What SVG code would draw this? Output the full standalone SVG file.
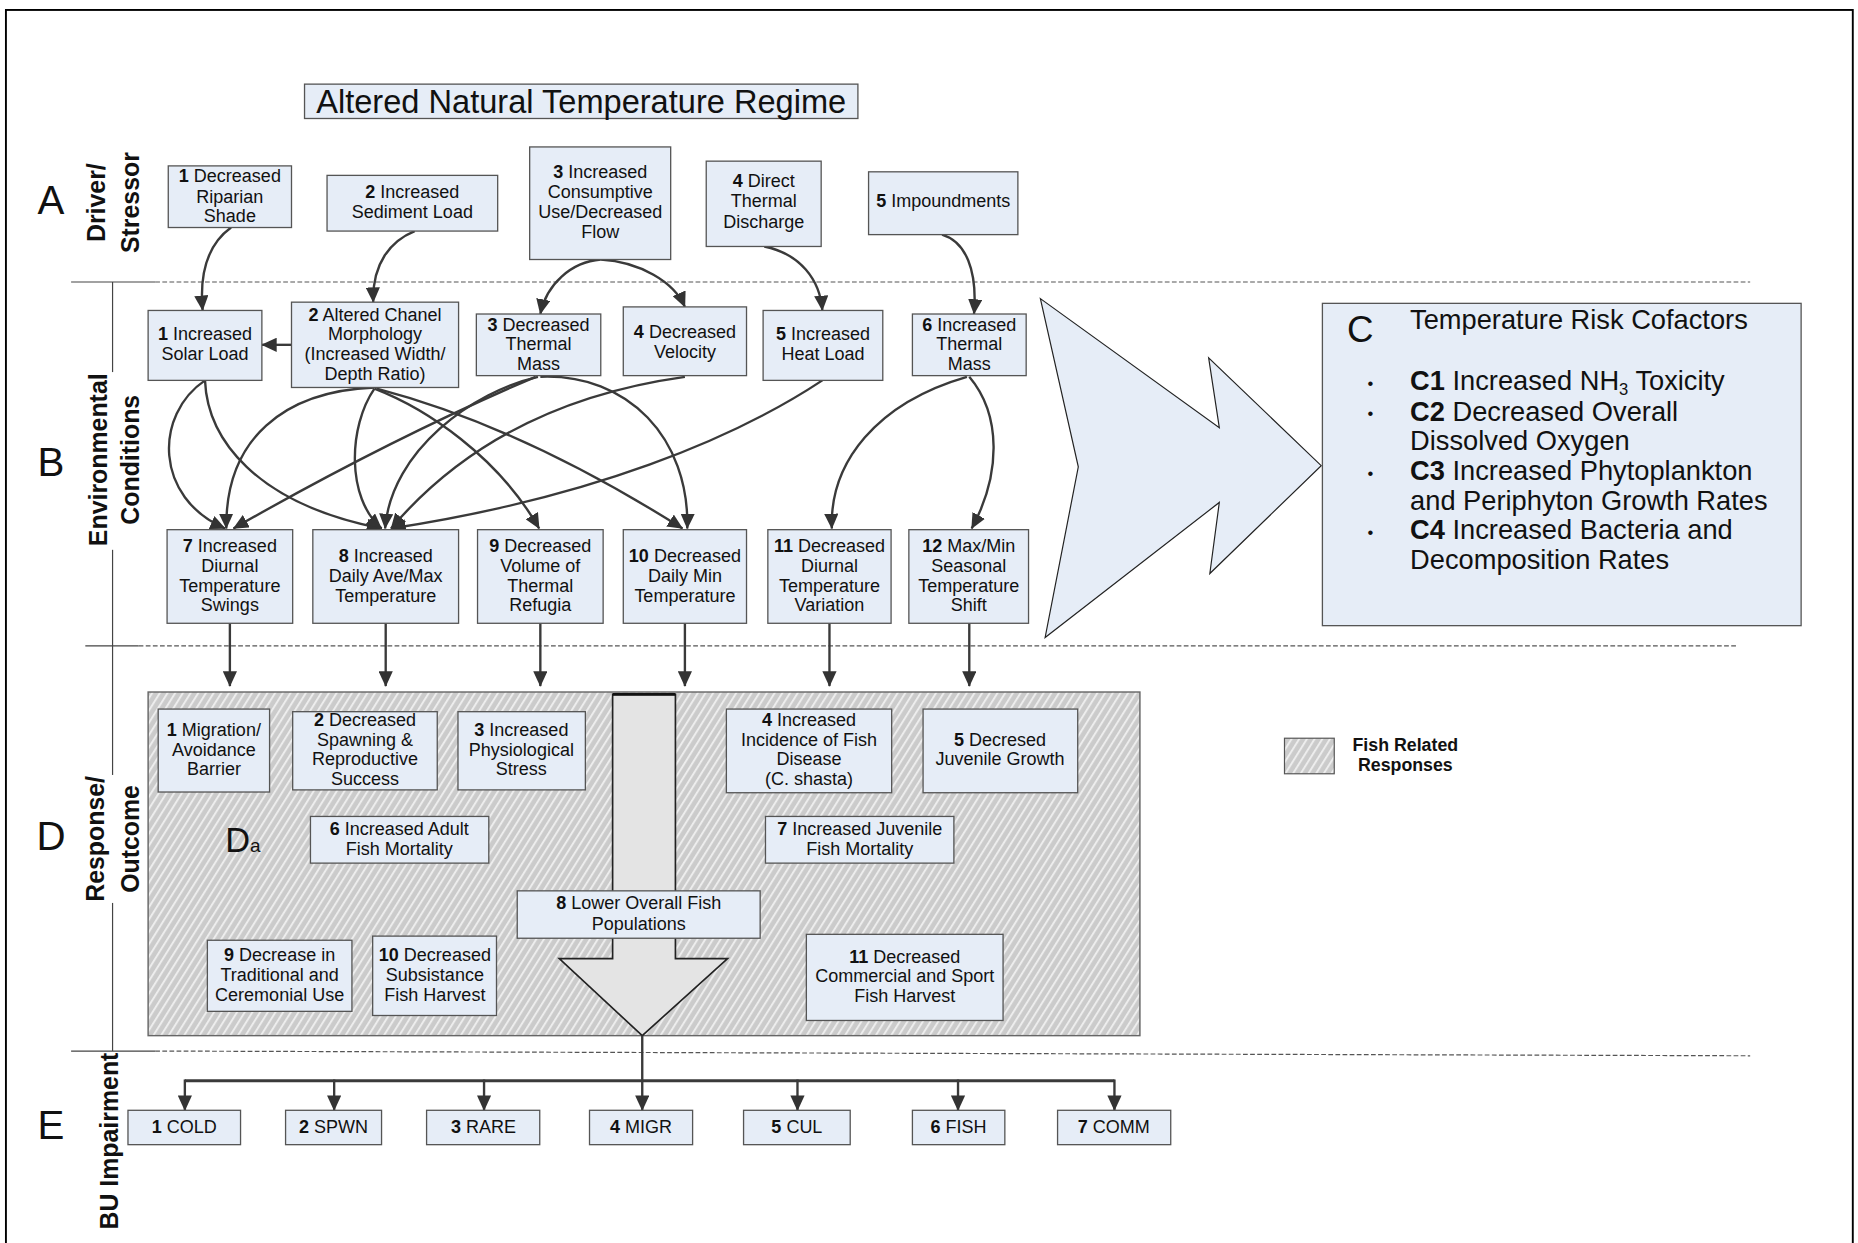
<svg xmlns="http://www.w3.org/2000/svg" width="1858" height="1243" viewBox="0 0 1858 1243">
<defs>
<style>
.bx{fill:#e6edf7;stroke:#555;stroke-width:1.1}
.t{font-family:"Liberation Sans",Arial,sans-serif;font-size:15.2px;fill:#111;text-anchor:middle}
.b{font-weight:bold}
.lab{font-family:"Liberation Sans",Arial,sans-serif;font-size:21px;font-weight:bold;fill:#111;text-anchor:middle}
.big{font-family:"Liberation Sans",Arial,sans-serif;font-size:34px;fill:#111;text-anchor:middle}
.ct{font-family:"Liberation Sans",Arial,sans-serif;font-size:23px;fill:#111}
.e{fill:none;stroke:#3a3a3a;stroke-width:2;marker-end:url(#ah)}
.sep{fill:none;stroke:#444;stroke-width:1}
.dash{fill:none;stroke:#555;stroke-width:1;stroke-dasharray:4 2}
</style>
<marker id="ah" viewBox="0 0 13 12" refX="12.5" refY="6" markerWidth="13" markerHeight="12" orient="auto" markerUnits="userSpaceOnUse">
<path d="M0,0 L13,6 L0,12 Z" fill="#333"/>
</marker>
<pattern id="hatch" patternUnits="userSpaceOnUse" width="5.5" height="6" patternTransform="rotate(32)">
<rect width="5.5" height="6" fill="#cbcbcb"/>
<rect width="1.7" height="6" fill="#ededed"/>
</pattern>
</defs>
<rect width="1858" height="1243" fill="#fff"/>
<g transform="scale(1.18495)">
<rect x="5" y="8.4" width="1558.6" height="1100" fill="none" stroke="#000" stroke-width="1.6"/>

<g id="separators">
<path class="sep" d="M60,238 H131 M72,545 H117 M60,887 H131 M95,238 V887"/>
<path class="dash" d="M131,238 H1477 M117,545 H1465 M131,887 L1477,891"/>
</g>

<g id="section-labels">
<rect x="68" y="314" width="54" height="150" fill="#fff"/>
<rect x="68" y="654" width="54" height="108" fill="#fff"/>
<text class="big" x="43" y="181">A</text>
<text class="big" x="43" y="402">B</text>
<text class="big" x="43" y="717">D</text>
<text class="big" x="43" y="961">E</text>
<text class="lab" transform="translate(89,171) rotate(-90)">Driver/</text>
<text class="lab" transform="translate(117,171) rotate(-90)">Stressor</text>
<text class="lab" transform="translate(90,388) rotate(-90)">Environmental</text>
<text class="lab" transform="translate(117,388) rotate(-90)">Conditions</text>
<text class="lab" transform="translate(88,708) rotate(-90)">Response/</text>
<text class="lab" transform="translate(117,708) rotate(-90)">Outcome</text>
<text class="lab" transform="translate(100,963) rotate(-90)">BU Impairment</text>
</g>

<g id="title">
<rect class="bx" x="257" y="71" width="467" height="29"/>
<text class="t" x="490.5" y="95" style="font-size:27.5px">Altered Natural Temperature Regime</text>
</g>

<g id="D-area">
<rect x="125" y="584" width="837" height="290" fill="url(#hatch)" stroke="#666" stroke-width="1.2"/>
<polygon points="517,586 570,586 570,809 614,809 542,874 472,809 517,809" fill="#e4e4e4" stroke="#222" stroke-width="1.4"/>
<path d="M517,586 H570" stroke="#111" stroke-width="2.5"/>
<text x="190" y="719" font-family="Liberation Sans, Arial, sans-serif" fill="#111"><tspan font-size="29">D</tspan><tspan font-size="16">a</tspan></text>
</g>

<g id="C-arrow">
<polygon points="878,252 1029,361 1020,302 1115,393 1021,484 1029,424 882,538 910,394" fill="#e6edf7" stroke="#222" stroke-width="1"/>
</g>

<g id="C-box">
<rect class="bx" x="1116" y="256" width="404" height="272"/>
<text x="1148" y="289" font-family="Liberation Sans, Arial, sans-serif" font-size="31" fill="#111" text-anchor="middle">C</text>
<text class="ct" x="1190" y="278">Temperature Risk Cofactors</text>
<g class="ct" style="font-size:14px"><text x="1154" y="328">•</text><text x="1154" y="354">•</text><text x="1154" y="404">•</text><text x="1154" y="454">•</text></g>
<text class="ct" x="1190" y="329"><tspan class="b">C1</tspan> Increased NH<tspan font-size="14" dy="4">3</tspan><tspan dy="-4"> Toxicity</tspan></text>
<text class="ct" x="1190" y="355"><tspan class="b">C2</tspan> Decreased Overall</text>
<text class="ct" x="1190" y="380">Dissolved Oxygen</text>
<text class="ct" x="1190" y="405"><tspan class="b">C3</tspan> Increased Phytoplankton</text>
<text class="ct" x="1190" y="430">and Periphyton Growth Rates</text>
<text class="ct" x="1190" y="455"><tspan class="b">C4</tspan> Increased Bacteria and</text>
<text class="ct" x="1190" y="480">Decomposition Rates</text>
</g>

<g id="legend">
<rect x="1084" y="623" width="42" height="30" fill="url(#hatch)" stroke="#555" stroke-width="1"/>
<text class="t b" x="1186" y="634" style="font-size:15px">Fish Related</text>
<text class="t b" x="1186" y="650.5" style="font-size:15px">Responses</text>
</g>

<g id="connectors">
<path class="e" d="M195,192 C177,205 168,228 171,262"/>
<path class="e" d="M350,195 C330,203 314,222 315,255"/>
<path class="e" d="M507,219 C482,221 461,240 456,265"/>
<path class="e" d="M507,219 C540,221 569,238 578,259"/>
<path class="e" d="M645,208 C675,214 692,236 694,262"/>
<path class="e" d="M795,198 C815,204 825,228 822,265"/>
<path class="e" d="M246,291 H221"/>
<path class="e" d="M173,321 C130,350 130,420 190,446"/>
<path class="e" d="M173,321 C175,370 215,425 322,446"/>
<path class="e" d="M316,327 C240,330 190,370 191,446"/>
<path class="e" d="M316,328 C294,360 292,420 322,446"/>
<path class="e" d="M316,328 C360,345 420,385 455,446"/>
<path class="e" d="M318,328 Q440,360 576,446"/>
<path class="e" d="M452,318 Q330,370 197,446"/>
<path class="e" d="M454,318 C400,330 330,380 325,446"/>
<path class="e" d="M456,318 C530,315 582,370 580,446"/>
<path class="e" d="M578,318 Q420,340 330,446"/>
<path class="e" d="M694,321 C620,370 500,420 330,446"/>
<path class="e" d="M816,318 C740,340 700,390 702,446"/>
<path class="e" d="M818,318 C845,350 845,400 820,446"/>
<path class="e" d="M194,526 V579"/>
<path class="e" d="M325.5,526 V579"/>
<path class="e" d="M456,526 V579"/>
<path class="e" d="M578,526 V579"/>
<path class="e" d="M700,526 V579"/>
<path class="e" d="M818,526 V579"/>
<path d="M156,912 H940.5" fill="none" stroke="#3a3a3a" stroke-width="2.6"/>
<path class="e" d="M542,874 V937"/>
<path class="e" d="M156,911 V937"/>
<path class="e" d="M282,911 V937"/>
<path class="e" d="M408.5,911 V937"/>
<path class="e" d="M673,911 V937"/>
<path class="e" d="M808.5,911 V937"/>
<path class="e" d="M940.5,911 V937"/>
</g>

<g id="A1"><rect class="bx" x="142" y="140" width="104" height="52"/><text class="t"><tspan x="194" y="154"><tspan class="b">1</tspan> Decreased</tspan><tspan x="194" y="171">Riparian</tspan><tspan x="194" y="187">Shade</tspan></text></g>
<g id="A2"><rect class="bx" x="276" y="148" width="144" height="47"/><text class="t"><tspan x="348" y="167"><tspan class="b">2</tspan> Increased</tspan><tspan x="348" y="184">Sediment Load</tspan></text></g>
<g id="A3"><rect class="bx" x="447" y="124" width="119" height="95"/><text class="t"><tspan x="506.5" y="150"><tspan class="b">3</tspan> Increased</tspan><tspan x="506.5" y="167">Consumptive</tspan><tspan x="506.5" y="184">Use/Decreased</tspan><tspan x="506.5" y="201">Flow</tspan></text></g>
<g id="A4"><rect class="bx" x="596" y="136" width="97" height="72"/><text class="t"><tspan x="644.5" y="158"><tspan class="b">4</tspan> Direct</tspan><tspan x="644.5" y="175">Thermal</tspan><tspan x="644.5" y="192">Discharge</tspan></text></g>
<g id="A5"><rect class="bx" x="733" y="145" width="126" height="53"/><text class="t"><tspan x="796" y="175"><tspan class="b">5</tspan> Impoundments</tspan></text></g>

<g id="B1"><rect class="bx" x="125" y="262" width="96" height="59"/><text class="t"><tspan x="173" y="287"><tspan class="b">1</tspan> Increased</tspan><tspan x="173" y="304">Solar Load</tspan></text></g>
<g id="B2"><rect class="bx" x="246" y="255" width="141" height="72"/><text class="t"><tspan x="316.5" y="271"><tspan class="b">2</tspan> Altered Chanel</tspan><tspan x="316.5" y="287">Morphology</tspan><tspan x="316.5" y="304">(Increased Width/</tspan><tspan x="316.5" y="321">Depth Ratio)</tspan></text></g>
<g id="B3"><rect class="bx" x="402" y="265" width="105" height="52"/><text class="t"><tspan x="454.5" y="279"><tspan class="b">3</tspan> Decreased</tspan><tspan x="454.5" y="295">Thermal</tspan><tspan x="454.5" y="312">Mass</tspan></text></g>
<g id="B4"><rect class="bx" x="526" y="259" width="104" height="58"/><text class="t"><tspan x="578" y="285"><tspan class="b">4</tspan> Decreased</tspan><tspan x="578" y="302">Velocity</tspan></text></g>
<g id="B5"><rect class="bx" x="644" y="262" width="101" height="59"/><text class="t"><tspan x="694.5" y="287"><tspan class="b">5</tspan> Increased</tspan><tspan x="694.5" y="304">Heat Load</tspan></text></g>
<g id="B6"><rect class="bx" x="770" y="265" width="96" height="52"/><text class="t"><tspan x="818" y="279"><tspan class="b">6</tspan> Increased</tspan><tspan x="818" y="295">Thermal</tspan><tspan x="818" y="312">Mass</tspan></text></g>

<g id="B7"><rect class="bx" x="141" y="447" width="106" height="79"/><text class="t"><tspan x="194" y="466"><tspan class="b">7</tspan> Increased</tspan><tspan x="194" y="483">Diurnal</tspan><tspan x="194" y="499.5">Temperature</tspan><tspan x="194" y="516">Swings</tspan></text></g>
<g id="B8"><rect class="bx" x="264" y="447" width="123" height="79"/><text class="t"><tspan x="325.5" y="474"><tspan class="b">8</tspan> Increased</tspan><tspan x="325.5" y="491">Daily Ave/Max</tspan><tspan x="325.5" y="508">Temperature</tspan></text></g>
<g id="B9"><rect class="bx" x="403" y="447" width="106" height="79"/><text class="t"><tspan x="456" y="466"><tspan class="b">9</tspan> Decreased</tspan><tspan x="456" y="483">Volume of</tspan><tspan x="456" y="499.5">Thermal</tspan><tspan x="456" y="516">Refugia</tspan></text></g>
<g id="B10"><rect class="bx" x="526" y="447" width="104" height="79"/><text class="t"><tspan x="578" y="474"><tspan class="b">10</tspan> Decreased</tspan><tspan x="578" y="491">Daily Min</tspan><tspan x="578" y="508">Temperature</tspan></text></g>
<g id="B11"><rect class="bx" x="648" y="447" width="104" height="79"/><text class="t"><tspan x="700" y="466"><tspan class="b">11</tspan> Decreased</tspan><tspan x="700" y="483">Diurnal</tspan><tspan x="700" y="499.5">Temperature</tspan><tspan x="700" y="516">Variation</tspan></text></g>
<g id="B12"><rect class="bx" x="767" y="447" width="101" height="79"/><text class="t"><tspan x="817.5" y="466"><tspan class="b">12</tspan> Max/Min</tspan><tspan x="817.5" y="483">Seasonal</tspan><tspan x="817.5" y="499.5">Temperature</tspan><tspan x="817.5" y="516">Shift</tspan></text></g>

<g id="D1"><rect class="bx" x="133.5" y="598.4" width="94" height="70"/><text class="t"><tspan x="180.5" y="621"><tspan class="b">1</tspan> Migration/</tspan><tspan x="180.5" y="637.7">Avoidance</tspan><tspan x="180.5" y="654.4">Barrier</tspan></text></g>
<g id="D2"><rect class="bx" x="247" y="600.6" width="122" height="66"/><text class="t"><tspan x="308" y="612.6"><tspan class="b">2</tspan> Decreased</tspan><tspan x="308" y="629.3">Spawning &amp;</tspan><tspan x="308" y="646">Reproductive</tspan><tspan x="308" y="662.7">Success</tspan></text></g>
<g id="D3"><rect class="bx" x="386.5" y="600.6" width="107.5" height="66"/><text class="t"><tspan x="440" y="621"><tspan class="b">3</tspan> Increased</tspan><tspan x="440" y="637.7">Physiological</tspan><tspan x="440" y="654.4">Stress</tspan></text></g>
<g id="D4"><rect class="bx" x="613" y="598.4" width="139.5" height="70.6"/><text class="t"><tspan x="682.7" y="612.6"><tspan class="b">4</tspan> Increased</tspan><tspan x="682.7" y="629.3">Incidence of Fish</tspan><tspan x="682.7" y="646">Disease</tspan><tspan x="682.7" y="662.7">(C. shasta)</tspan></text></g>
<g id="D5"><rect class="bx" x="779" y="598.4" width="130.5" height="70.6"/><text class="t"><tspan x="844" y="629.3"><tspan class="b">5</tspan> Decresed</tspan><tspan x="844" y="646">Juvenile Growth</tspan></text></g>
<g id="D6"><rect class="bx" x="262" y="689" width="150.5" height="39.4"/><text class="t"><tspan x="337" y="705"><tspan class="b">6</tspan> Increased Adult</tspan><tspan x="337" y="721.7">Fish Mortality</tspan></text></g>
<g id="D7"><rect class="bx" x="646" y="689" width="159" height="39.4"/><text class="t"><tspan x="725.5" y="705"><tspan class="b">7</tspan> Increased Juvenile</tspan><tspan x="725.5" y="721.7">Fish Mortality</tspan></text></g>
<g id="D8"><rect class="bx" x="436.5" y="751.8" width="205" height="40"/><text class="t"><tspan x="539" y="767.5"><tspan class="b">8</tspan> Lower Overall Fish</tspan><tspan x="539" y="784.8">Populations</tspan></text></g>
<g id="D9"><rect class="bx" x="175" y="793.5" width="122" height="60"/><text class="t"><tspan x="236" y="811.2"><tspan class="b">9</tspan> Decrease in</tspan><tspan x="236" y="827.9">Traditional and</tspan><tspan x="236" y="844.5">Ceremonial Use</tspan></text></g>
<g id="D10"><rect class="bx" x="314.5" y="790" width="104.5" height="67"/><text class="t"><tspan x="367" y="811"><tspan class="b">10</tspan> Decreased</tspan><tspan x="367" y="828">Subsistance</tspan><tspan x="367" y="844.5">Fish Harvest</tspan></text></g>
<g id="D11"><rect class="bx" x="680.5" y="788.5" width="166" height="72.7"/><text class="t"><tspan x="763.5" y="812.5"><tspan class="b">11</tspan> Decreased</tspan><tspan x="763.5" y="829">Commercial and Sport</tspan><tspan x="763.5" y="845.5">Fish Harvest</tspan></text></g>

<g id="E1"><rect class="bx" x="108" y="937" width="95" height="29"/><text class="t" x="155.5" y="956.5"><tspan class="b">1</tspan> COLD</text></g>
<g id="E2"><rect class="bx" x="241" y="937" width="81" height="29"/><text class="t" x="281.5" y="956.5"><tspan class="b">2</tspan> SPWN</text></g>
<g id="E3"><rect class="bx" x="360" y="937" width="95.5" height="29"/><text class="t" x="408" y="956.5"><tspan class="b">3</tspan> RARE</text></g>
<g id="E4"><rect class="bx" x="497.5" y="937" width="87" height="29"/><text class="t" x="541" y="956.5"><tspan class="b">4</tspan> MIGR</text></g>
<g id="E5"><rect class="bx" x="627.5" y="937" width="90" height="29"/><text class="t" x="672.5" y="956.5"><tspan class="b">5</tspan> CUL</text></g>
<g id="E6"><rect class="bx" x="770" y="937" width="78" height="29"/><text class="t" x="809" y="956.5"><tspan class="b">6</tspan> FISH</text></g>
<g id="E7"><rect class="bx" x="892.5" y="937" width="95.5" height="29"/><text class="t" x="940" y="956.5"><tspan class="b">7</tspan> COMM</text></g>
</g>
</svg>
